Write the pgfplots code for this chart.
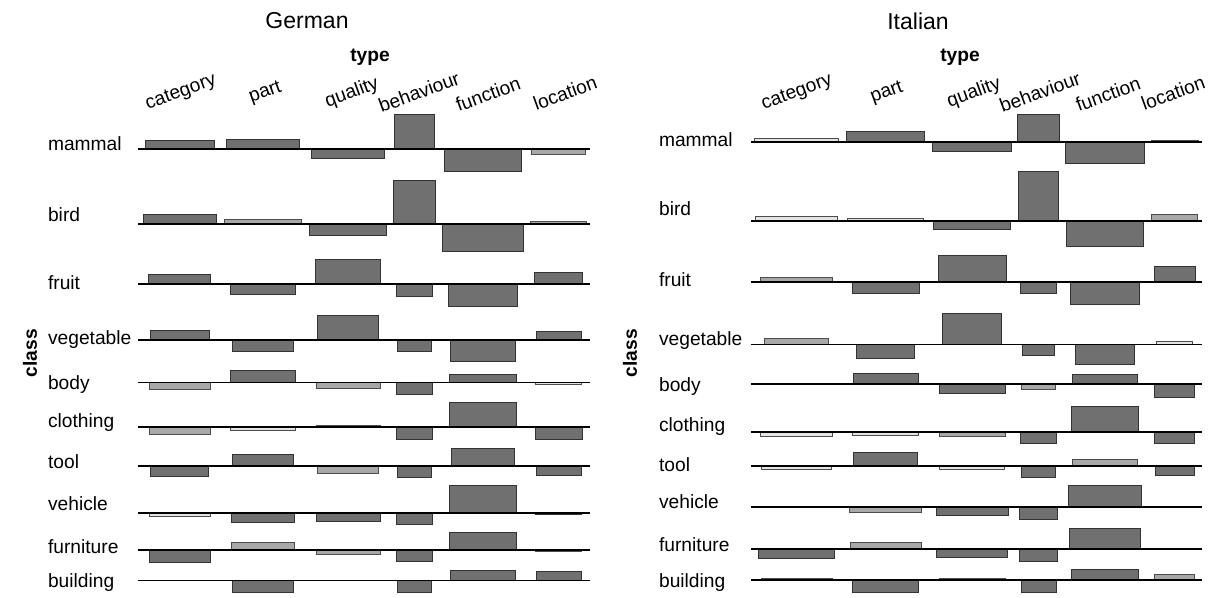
\documentclass[border=0pt]{standalone}
\usepackage{pgfplots}
\pgfplotsset{compat=1.18}
\usepackage{fontspec}
\setmainfont{Liberation Sans}
\definecolor{gd}{HTML}{707070}
\definecolor{gm}{HTML}{A8A8A8}
\definecolor{gl}{HTML}{E4E4E4}
\tikzset{
  d/.style={fill=gd, draw=black!80, line width=0.5pt},
  m/.style={fill=gm, draw=black!70, line width=0.5pt},
  l/.style={fill=gl, draw=black!70, line width=0.5pt},
  bl/.style={black, line width=0.8pt},
  cl/.style={font=\lab, rotate=20, inner sep=0pt},
}
\newcommand{\lab}{\fontsize{9.6}{11}\selectfont}
\newcommand{\ttl}{\fontsize{11.5}{13}\selectfont}
% rectangle: x0, x1, baseline y, end y, style
\newcommand{\rc}[5]{\addplot[#5] coordinates {(#1,#3) (#2,#3) (#2,#4) (#1,#4) (#1,#3)};}
\begin{document}
\begin{tikzpicture}
\begin{axis}[
  width=607pt, height=298.5pt, scale only axis,
  xmin=0, xmax=1214, ymin=0, ymax=597, y dir=reverse,
  hide axis, clip=false, no markers,
]
% frame that fixes the picture's extent (invisible)
\addplot[draw=none] coordinates {(0,0) (1214,0) (1214,597) (0,597) (0,0)};
% ===================== German =====================
% mammal
\rc{145}{214.3}{149}{140.3}{d}
\rc{226.3}{299.3}{149}{139.7}{d}
\rc{311.7}{384.3}{149}{158.3}{d}
\rc{394.3}{434.7}{149}{114.3}{d}
\rc{444.3}{521}{149}{171.7}{d}
\rc{531.7}{585.3}{149}{154}{m}
% bird
\rc{143}{216.3}{224}{214}{d}
\rc{224.3}{301.3}{224}{219.7}{m}
\rc{309.7}{386.3}{224}{235.7}{d}
\rc{393}{435.7}{224}{180.3}{d}
\rc{442.3}{523}{224}{251}{d}
\rc{530.7}{586.3}{224}{221.7}{m}
% fruit
\rc{148.3}{210.7}{283.7}{274}{d}
\rc{230}{295.7}{283.7}{294.3}{d}
\rc{315.7}{380.7}{283.7}{259.3}{d}
\rc{396}{432.3}{283.7}{296}{d}
\rc{448.3}{517.3}{283.7}{306.7}{d}
\rc{534.3}{582.3}{283.7}{272.7}{d}
% vegetable
\rc{150.3}{209}{340}{330.7}{d}
\rc{232}{293.7}{340}{351.3}{d}
\rc{317.7}{378.7}{340}{315.3}{d}
\rc{397.3}{431.3}{340}{351.3}{d}
\rc{450.3}{515}{340}{361.7}{d}
\rc{536}{581}{340}{331}{d}
% body
\rc{149}{210.3}{382.3}{389.3}{m}
\rc{230.7}{295}{382.3}{370.3}{d}
\rc{316}{380.3}{382.3}{388.3}{m}
\rc{396.3}{432.3}{382.3}{394.3}{d}
\rc{449}{516.3}{382.3}{374.3}{d}
\rc{535}{581.7}{382.3}{384.3}{l}
% clothing
\rc{149}{210.3}{427}{434.3}{m}
\rc{230.7}{295}{427}{430.3}{l}
\rc{316}{380.3}{427}{425.8}{l}
\rc{396.3}{432.3}{427}{439}{d}
\rc{449}{516.7}{427}{402.3}{d}
\rc{535}{582}{427}{439.3}{d}
% tool
\rc{150.7}{208.7}{465.7}{476.3}{d}
\rc{232.3}{293.7}{465.7}{454.3}{d}
\rc{317.7}{378.7}{465.7}{473}{m}
\rc{397.3}{431.3}{465.7}{477.3}{d}
\rc{451}{514.7}{465.7}{448.3}{d}
\rc{536.3}{581}{465.7}{475.7}{d}
% vehicle
\rc{149.3}{210}{512.7}{516.3}{l}
\rc{231}{294.7}{512.7}{522.3}{d}
\rc{316.3}{380.3}{512.7}{521}{d}
\rc{396.3}{432.3}{512.7}{524.3}{d}
\rc{449.3}{516.7}{512.7}{485.7}{d}
\rc{535.3}{581.7}{512.7}{514}{d}
% furniture
\rc{149.7}{210}{549.7}{562}{d}
\rc{231.3}{294.3}{549.7}{542}{m}
\rc{316.3}{380}{549.7}{554.7}{m}
\rc{396.7}{432}{549.7}{561.3}{d}
\rc{449.3}{516}{549.7}{532.3}{d}
\rc{535.3}{581.7}{549.7}{551.3}{l}
% building
\rc{232}{293.7}{580.3}{592.3}{d}
\rc{397.3}{431.3}{580.3}{592.3}{d}
\rc{450.7}{515}{580.3}{570.3}{d}
\rc{536.3}{581}{580.3}{571}{d}
% baselines
\addplot[bl] coordinates {(138.3,149) (590,149)};
\addplot[bl] coordinates {(138.3,224) (590,224)};
\addplot[bl] coordinates {(138.3,283.7) (590,283.7)};
\addplot[bl] coordinates {(138.3,340) (590,340)};
\addplot[bl] coordinates {(138.3,382.3) (590,382.3)};
\addplot[bl] coordinates {(138.3,427) (590,427)};
\addplot[bl] coordinates {(138.3,465.7) (590,465.7)};
\addplot[bl] coordinates {(138.3,512.7) (590,512.7)};
\addplot[bl] coordinates {(138.3,549.7) (590,549.7)};
\addplot[bl] coordinates {(138.3,580.3) (590,580.3)};
% ===================== Italian =====================
% mammal
\rc{754.3}{838.3}{142}{138.7}{l}
\rc{846.7}{924.3}{142}{131.3}{d}
\rc{932.7}{1011.3}{142}{151}{d}
\rc{1017.7}{1059}{142}{114.3}{d}
\rc{1065.7}{1144.3}{142}{163.3}{d}
\rc{1151.3}{1198}{142}{140}{l}
% bird
\rc{755.3}{837.7}{220.7}{216.7}{l}
\rc{847.3}{923.7}{220.7}{218.3}{l}
\rc{933.3}{1010.3}{220.7}{229}{d}
\rc{1018.3}{1058.7}{220.7}{171.7}{d}
\rc{1066.3}{1143.7}{220.7}{246.7}{d}
\rc{1151.3}{1197.7}{220.7}{214.3}{m}
% fruit
\rc{760.3}{832.7}{281.7}{277.3}{m}
\rc{852}{919.3}{281.7}{293.3}{d}
\rc{938.3}{1006.3}{281.7}{255.3}{d}
\rc{1020.7}{1056.3}{281.7}{293.3}{d}
\rc{1070.7}{1139}{281.7}{304.7}{d}
\rc{1154.3}{1195}{281.7}{266}{d}
% vegetable
\rc{764.3}{828}{344.3}{338}{m}
\rc{856.3}{914.7}{344.3}{358.7}{d}
\rc{942.3}{1001.7}{344.3}{313.3}{d}
\rc{1022.7}{1054.3}{344.3}{355.3}{d}
\rc{1075}{1134.7}{344.3}{364.7}{d}
\rc{1156.3}{1192.3}{344.3}{341}{l}
% body
\rc{761}{831.7}{384}{384.8}{d}
\rc{853.3}{918.3}{384}{373.3}{d}
\rc{939.3}{1005}{384}{393.7}{d}
\rc{1021}{1055.7}{384}{389.3}{m}
\rc{1072}{1137.7}{384}{374}{d}
\rc{1154.7}{1194.3}{384}{397.3}{d}
% clothing
\rc{760.3}{832}{431.7}{436}{l}
\rc{852.7}{918.7}{431.7}{435.3}{l}
\rc{939}{1005.3}{431.7}{436.3}{m}
\rc{1020.7}{1056}{431.7}{443.7}{d}
\rc{1071.3}{1138.3}{431.7}{406.3}{d}
\rc{1154.7}{1194.3}{431.7}{443.7}{d}
% tool
\rc{761.7}{831}{465.7}{469}{l}
\rc{853.7}{917.7}{465.7}{452.3}{d}
\rc{939.7}{1004.3}{465.7}{469}{l}
\rc{1021.3}{1055.3}{465.7}{477.3}{d}
\rc{1072.3}{1137.3}{465.7}{459.3}{m}
\rc{1155}{1194}{465.7}{475.7}{d}
% vehicle
\rc{849.7}{921.7}{507}{512.3}{m}
\rc{936}{1008.3}{507}{515.3}{d}
\rc{1019.3}{1057.3}{507}{519.7}{d}
\rc{1068.7}{1141.3}{507}{485.7}{d}
% furniture
\rc{758.3}{834.7}{548.7}{558.7}{d}
\rc{850.3}{921.3}{548.7}{542.3}{m}
\rc{936.3}{1007.7}{548.7}{557.3}{d}
\rc{1019.3}{1057.3}{548.7}{561.3}{d}
\rc{1069.3}{1140.7}{548.7}{528.3}{d}
% building
\rc{761}{832}{579.7}{578.3}{l}
\rc{852.7}{918.7}{579.7}{592.3}{d}
\rc{939}{1005.3}{579.7}{578.3}{l}
\rc{1021}{1056}{579.7}{592.3}{d}
\rc{1071.7}{1138.3}{579.7}{569.7}{d}
\rc{1154.7}{1194.3}{579.7}{574.3}{m}
% baselines
\addplot[bl] coordinates {(751,142) (1201.7,142)};
\addplot[bl] coordinates {(751,220.7) (1201.7,220.7)};
\addplot[bl] coordinates {(751,281.7) (1201.7,281.7)};
\addplot[bl] coordinates {(751,344.3) (1201.7,344.3)};
\addplot[bl] coordinates {(751,384) (1201.7,384)};
\addplot[bl] coordinates {(751,431.7) (1201.7,431.7)};
\addplot[bl] coordinates {(751,465.7) (1201.7,465.7)};
\addplot[bl] coordinates {(751,507) (1201.7,507)};
\addplot[bl] coordinates {(751,548.7) (1201.7,548.7)};
\addplot[bl] coordinates {(751,579.7) (1201.7,579.7)};
% ===================== Texts =====================
\node[font=\ttl] at (axis cs:307,21) {German};
\node[font=\ttl] at (axis cs:918,21) {Italian};
\node[font=\lab\bfseries] at (axis cs:370,57) {type};
\node[font=\lab\bfseries] at (axis cs:960,57) {type};
\node[font=\lab\bfseries, rotate=90] at (axis cs:30,353) {class};
\node[font=\lab\bfseries, rotate=90] at (axis cs:630,353) {class};
% column labels German
\node[cl] at (axis cs:181,93) {category};
\node[cl] at (axis cs:265.5,93) {part};
\node[cl] at (axis cs:352,93) {quality};
\node[cl] at (axis cs:419,92) {behaviour};
\node[cl] at (axis cs:488,94) {function};
\node[cl] at (axis cs:565,93) {location};
% column labels Italian
\node[cl] at (axis cs:797,93) {category};
\node[cl] at (axis cs:887,93) {part};
\node[cl] at (axis cs:974,93) {quality};
\node[cl] at (axis cs:1040,92) {behaviour};
\node[cl] at (axis cs:1108,94) {function};
\node[cl] at (axis cs:1173,93) {location};
% row labels German
\node[font=\lab, anchor=mid west] at (axis cs:41,145) {mammal};
\node[font=\lab, anchor=mid west] at (axis cs:41,216) {bird};
\node[font=\lab, anchor=mid west] at (axis cs:41,284) {fruit};
\node[font=\lab, anchor=mid west] at (axis cs:41,339) {vegetable};
\node[font=\lab, anchor=mid west] at (axis cs:41,384) {body};
\node[font=\lab, anchor=mid west] at (axis cs:41,422) {clothing};
\node[font=\lab, anchor=mid west] at (axis cs:41,463) {tool};
\node[font=\lab, anchor=mid west] at (axis cs:41,505) {vehicle};
\node[font=\lab, anchor=mid west] at (axis cs:41,548) {furniture};
\node[font=\lab, anchor=mid west] at (axis cs:41,582) {building};
% row labels Italian
\node[font=\lab, anchor=mid west] at (axis cs:652,141) {mammal};
\node[font=\lab, anchor=mid west] at (axis cs:652,210) {bird};
\node[font=\lab, anchor=mid west] at (axis cs:652,281) {fruit};
\node[font=\lab, anchor=mid west] at (axis cs:652,340) {vegetable};
\node[font=\lab, anchor=mid west] at (axis cs:652,386) {body};
\node[font=\lab, anchor=mid west] at (axis cs:652,426) {clothing};
\node[font=\lab, anchor=mid west] at (axis cs:652,466) {tool};
\node[font=\lab, anchor=mid west] at (axis cs:652,503) {vehicle};
\node[font=\lab, anchor=mid west] at (axis cs:652,546) {furniture};
\node[font=\lab, anchor=mid west] at (axis cs:652,582) {building};
\end{axis}
\end{tikzpicture}
\end{document}
